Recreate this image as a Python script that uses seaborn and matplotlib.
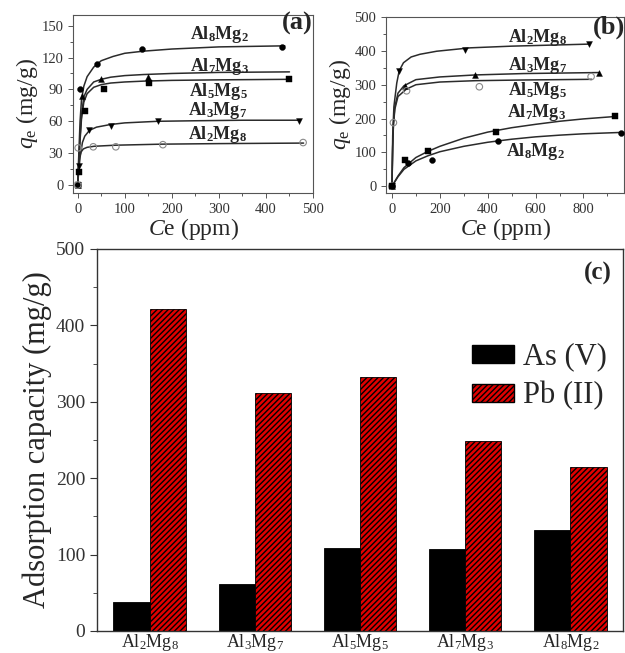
import numpy as np
import pandas as pd
import matplotlib.pyplot as plt
import seaborn as sns
from matplotlib.patches import Patch
from matplotlib.ticker import MultipleLocator

sns.set_style('ticks')
plt.rcParams['font.family'] = ['Liberation Serif', 'DejaVu Serif']
plt.rcParams['mathtext.fontset'] = 'custom'
plt.rcParams['mathtext.rm'] = 'Liberation Serif'
plt.rcParams['mathtext.it'] = 'Liberation Serif:italic'
plt.rcParams['mathtext.bf'] = 'Liberation Serif:bold'
plt.rcParams['hatch.linewidth'] = 1.0

# ---- panel (a): As(V) isotherms ----
a_al8mg2_ce = [0, 5, 42, 137, 435]
a_al8mg2_qe = [0, 90, 114, 128, 130]
a_al7mg3_ce = [0, 9, 50, 149]
a_al7mg3_qe = [0, 84, 100, 102]
a_al5mg5_ce = [0, 3, 15, 55, 152, 449]
a_al5mg5_qe = [0, 12, 70, 90, 96, 100]
a_al3mg7_ce = [0, 2, 24, 71, 170, 470]
a_al3mg7_qe = [0, 18, 52, 56, 60, 60]
a_al2mg8_ce = [0, 1, 33, 81, 181, 479]
a_al2mg8_qe = [0, 35, 36, 36, 38, 40]

# fitted curves
a_al8mg2_fit_ce = [0, 2, 5, 8, 13, 20, 34, 50, 75, 100, 140, 200, 300, 440]
a_al8mg2_fit_qe = [0, 25, 60, 80, 93, 102, 111, 117, 121, 124, 126, 128, 130, 131]
a_al7mg3_fit_ce = [0, 2, 5, 8, 13, 20, 34, 50, 70, 100, 140, 200, 300, 450]
a_al7mg3_fit_qe = [0, 20, 45, 65, 83, 90, 97, 99.5, 101.5, 103, 104, 105, 106, 106.5]
a_al5mg5_fit_ce = [0, 2, 5, 8, 13, 20, 34, 50, 70, 100, 140, 200, 300, 450]
a_al5mg5_fit_qe = [0, 18, 42, 62, 78, 86, 92, 94.5, 96, 97, 97.8, 98.5, 99, 99.5]
a_al3mg7_fit_ce = [0, 2, 5, 10, 15, 25, 40, 70, 100, 170, 250, 350, 470]
a_al3mg7_fit_qe = [0, 12, 26, 40, 46, 51.5, 54.5, 57, 58.5, 60, 60.5, 61, 61]
a_al2mg8_fit_ce = [0, 1, 2, 4, 7, 12, 20, 35, 80, 180, 300, 480]
a_al2mg8_fit_qe = [0, 10, 18, 26, 31, 34, 35.5, 36.5, 37.5, 38.5, 39, 39.5]

# ---- panel (b): Pb(II) isotherms ----
b_al2mg8_ce = [0, 30, 307, 822]
b_al2mg8_qe = [0, 341, 402, 419]
b_al3mg7_ce = [0, 54, 347, 865]
b_al3mg7_qe = [0, 296, 329, 336]
b_al5mg5_ce = [0, 6, 61, 365, 832]
b_al5mg5_qe = [0, 188, 282, 294, 324]
b_al7mg3_ce = [0, 54, 152, 435, 931]
b_al7mg3_qe = [0, 77, 103, 159, 207]
b_al8mg2_ce = [0, 68, 166, 445, 955]
b_al8mg2_qe = [0, 68, 79, 133, 158]

b_al2mg8_fit_ce = [0, 3, 8, 12, 20, 30, 48, 80, 117, 187, 326, 500, 822]
b_al2mg8_fit_qe = [0, 150, 235, 259, 305, 341, 365, 382, 390, 399, 409, 414, 420]
b_al3mg7_fit_ce = [0, 3, 6, 12, 25, 50, 100, 200, 350, 550, 865]
b_al3mg7_fit_qe = [0, 120, 185, 235, 275, 297, 315, 323, 329, 333, 336]
b_al5mg5_fit_ce = [0, 3, 6, 12, 25, 60, 100, 200, 350, 550, 835]
b_al5mg5_fit_qe = [0, 115, 180, 228, 265, 287, 300, 308, 312, 314, 316]
b_al7mg3_fit_ce = [0, 25, 50, 100, 150, 200, 300, 400, 500, 600, 700, 800, 930]
b_al7mg3_fit_qe = [0, 30, 55, 85, 103, 118, 142, 160, 173, 183, 192, 199, 206]
b_al8mg2_fit_ce = [0, 25, 50, 100, 150, 200, 300, 400, 500, 600, 700, 800, 955]
b_al8mg2_fit_qe = [0, 28, 50, 75, 90, 102, 118, 130, 139, 146, 151, 155, 159]

# ---- panel (c): adsorption capacity ----
c_alloys = ['Al2Mg8', 'Al3Mg7', 'Al5Mg5', 'Al7Mg3', 'Al8Mg2']
c_as = [38, 61, 109, 107, 132]
c_pb = [422, 312, 332, 249, 214]

def sub_label(name, bold=False):
    # Al8Mg2 -> mathtext with subscripts
    txt = 'Al_%sMg_%s' % (name[2], name[5])
    return (r'$\mathbf{%s}$' if bold else r'$\mathrm{%s}$') % txt

LINE = '#2b2b2b'
SPINE = '#555555'

def style_iso(ax):
    for s in ax.spines.values():
        s.set_color(SPINE)
        s.set_linewidth(0.8)
    ax.tick_params(which='both', direction='out', colors=SPINE, labelcolor='#333333',
                   labelsize=10.5, width=0.7)
    ax.tick_params(which='major', length=3.5)
    ax.tick_params(which='minor', length=2)
    ax.set_ylabel(r'$q_\mathrm{e}$ (mg/g)', fontsize=17, labelpad=1)
    ax.set_xlabel(r'$C$e (ppm)', fontsize=17, labelpad=0)

def draw_series(ax, ce, qe, fce, fqe, marker, open_marker=False):
    sns.lineplot(x=fce, y=fqe, ax=ax, color=LINE, lw=1.1, sort=False)
    if open_marker:
        sns.scatterplot(x=ce, y=qe, ax=ax, marker=marker, s=22, facecolor='none',
                        edgecolor='#8a8a8a', linewidth=0.8, zorder=3)
    else:
        sns.scatterplot(x=ce, y=qe, ax=ax, marker=marker, s=18, color='black',
                        edgecolor='black', linewidth=0.3, zorder=3)

fig = plt.figure(figsize=(6.25, 6.53), dpi=100)

# (a)
ax_a = fig.add_axes([0.1168, 0.7044, 0.384, 0.2726])
draw_series(ax_a, a_al8mg2_ce, a_al8mg2_qe, a_al8mg2_fit_ce, a_al8mg2_fit_qe, 'o')
draw_series(ax_a, a_al7mg3_ce, a_al7mg3_qe, a_al7mg3_fit_ce, a_al7mg3_fit_qe, '^')
draw_series(ax_a, a_al5mg5_ce, a_al5mg5_qe, a_al5mg5_fit_ce, a_al5mg5_fit_qe, 's')
draw_series(ax_a, a_al3mg7_ce, a_al3mg7_qe, a_al3mg7_fit_ce, a_al3mg7_fit_qe, 'v')
draw_series(ax_a, a_al2mg8_ce, a_al2mg8_qe, a_al2mg8_fit_ce, a_al2mg8_fit_qe, 'o', open_marker=True)
ax_a.set_xlim(-10, 500)
ax_a.set_ylim(-7.5, 160)
ax_a.xaxis.set_major_locator(MultipleLocator(100))
ax_a.xaxis.set_minor_locator(MultipleLocator(50))
ax_a.yaxis.set_major_locator(MultipleLocator(30))
ax_a.yaxis.set_minor_locator(MultipleLocator(15))
style_iso(ax_a)
a_label_pos = {'Al8Mg2': (302, 141.5), 'Al7Mg3': (302, 112), 'Al5Mg5': (298, 88),
               'Al3Mg7': (298, 70), 'Al2Mg8': (296, 48)}
for name, (x, y) in a_label_pos.items():
    ax_a.text(x, y, sub_label(name, bold=True), fontsize=13, ha='center', va='center')
ax_a.text(0.935, 0.955, '(a)', transform=ax_a.transAxes, fontsize=19, fontweight='bold',
          ha='center', va='center')

# (b)
ax_b = fig.add_axes([0.6176, 0.7044, 0.381, 0.2695])
draw_series(ax_b, b_al2mg8_ce, b_al2mg8_qe, b_al2mg8_fit_ce, b_al2mg8_fit_qe, 'v')
draw_series(ax_b, b_al3mg7_ce, b_al3mg7_qe, b_al3mg7_fit_ce, b_al3mg7_fit_qe, '^')
draw_series(ax_b, b_al5mg5_ce, b_al5mg5_qe, b_al5mg5_fit_ce, b_al5mg5_fit_qe, 'o', open_marker=True)
draw_series(ax_b, b_al7mg3_ce, b_al7mg3_qe, b_al7mg3_fit_ce, b_al7mg3_fit_qe, 's')
draw_series(ax_b, b_al8mg2_ce, b_al8mg2_qe, b_al8mg2_fit_ce, b_al8mg2_fit_qe, 'o')
ax_b.set_xlim(-25, 970)
ax_b.set_ylim(-20, 500)
ax_b.xaxis.set_major_locator(MultipleLocator(200))
ax_b.xaxis.set_minor_locator(MultipleLocator(100))
ax_b.yaxis.set_major_locator(MultipleLocator(100))
ax_b.yaxis.set_minor_locator(MultipleLocator(50))
style_iso(ax_b)
b_label_pos = {'Al2Mg8': (607, 439), 'Al3Mg7': (607, 358), 'Al5Mg5': (607, 283),
               'Al7Mg3': (605, 218), 'Al8Mg2': (600, 102)}
for name, (x, y) in b_label_pos.items():
    ax_b.text(x, y, sub_label(name, bold=True), fontsize=13, ha='center', va='center')
ax_b.text(0.935, 0.94, '(b)', transform=ax_b.transAxes, fontsize=19, fontweight='bold',
          ha='center', va='center')

# (c)
ax_c = fig.add_axes([0.1552, 0.0337, 0.8416, 0.585])
df_c = pd.DataFrame({
    'alloy': c_alloys * 2,
    'capacity': c_as + c_pb,
    'ion': ['As (V)'] * len(c_alloys) + ['Pb (II)'] * len(c_alloys),
})
sns.barplot(data=df_c, x='alloy', y='capacity', hue='ion', hue_order=['As (V)', 'Pb (II)'],
            palette=['black', '#e00000'], saturation=1, width=0.69, edgecolor='black',
            linewidth=0.6, legend=False, ax=ax_c)
for bar in ax_c.containers[1]:
    bar.set_hatch('//////')
ax_c.set_ylim(0, 500)
ax_c.set_xlim(-0.5, 4.5)
ax_c.yaxis.set_major_locator(MultipleLocator(100))
ax_c.yaxis.set_minor_locator(MultipleLocator(50))
ax_c.set_xticks(range(len(c_alloys)))
ax_c.set_xticklabels([sub_label(n) for n in c_alloys])
ax_c.set_xlabel('')
ax_c.set_ylabel('Adsorption capacity (mg/g)', fontsize=22, labelpad=3)
for s in ax_c.spines.values():
    s.set_color('#333333')
    s.set_linewidth(1.0)
ax_c.tick_params(axis='y', which='both', direction='out', labelsize=14, colors='#333333')
ax_c.tick_params(axis='y', which='major', length=5)
ax_c.tick_params(axis='y', which='minor', length=3)
ax_c.tick_params(axis='x', length=0, labelsize=13, pad=1)
handles = [Patch(facecolor='black', edgecolor='black', label='As (V)'),
           Patch(facecolor='#e00000', edgecolor='black', hatch='//////', label='Pb (II)')]
ax_c.legend(handles=handles, loc='upper left', bbox_to_anchor=(0.713, 0.755), frameon=False,
            fontsize=22, handlelength=1.37, handleheight=0.55, handletextpad=0.3,
            labelspacing=0.32, borderpad=0, borderaxespad=0)
ax_c.text(0.953, 0.937, '(c)', transform=ax_c.transAxes, fontsize=18, fontweight='bold',
          ha='center', va='center')

fig.savefig('out.png', dpi=100)
